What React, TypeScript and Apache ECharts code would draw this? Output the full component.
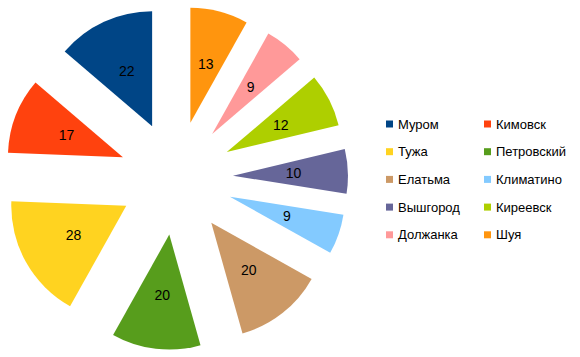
import React, { useEffect, useRef } from "react";
import * as echarts from "echarts";

const categories = ["Муром", "Кимовск", "Тужа", "Петровский", "Елатьма", "Климатино", "Вышгород", "Киреевск", "Должанка", "Шуя"];
const values = [22, 17, 28, 20, 20, 9, 10, 12, 9, 13];
const colors = ["#004586", "#ff420e", "#ffd320", "#579d1c", "#cc9966", "#83caff", "#666699", "#aecf00", "#ff9999", "#ff950e"];
const legendLeft = ["Муром", "Тужа", "Елатьма", "Вышгород", "Должанка"];
const legendRight = ["Кимовск", "Петровский", "Климатино", "Киреевск", "Шуя"];

export default function App() {
  const ref = useRef<HTMLDivElement>(null);
  useEffect(() => {
    document.body.style.margin = "0";
    const chart = echarts.init(ref.current!, undefined, { renderer: "svg" });
    const legendCommon = {
      orient: "vertical" as const,
      top: 117,
      padding: 0,
      itemWidth: 7,
      itemHeight: 7,
      itemGap: 13.7,
      icon: "rect",
      textStyle: { fontFamily: "Liberation Sans, Arial, sans-serif", fontSize: 13, color: "#000", lineHeight: 14 },
      selectedMode: false,
    };
    chart.setOption({
      animation: false,
      color: colors,
      legend: [
        { ...legendCommon, left: 386, data: legendLeft },
        { ...legendCommon, left: 484, data: legendRight },
      ],
      series: [
        {
          type: "pie",
          center: [176, 178],
          radius: 115,
          startAngle: 90,
          clockwise: false,
          selectedMode: "multiple",
          selectedOffset: 57,
          avoidLabelOverlap: false,
          label: {
            show: true,
            position: "inside",
            formatter: "{c}",
            fontFamily: "Liberation Sans, Arial, sans-serif",
            fontSize: 14,
            color: "#000",
          },
          labelLine: { show: false },
          itemStyle: { borderWidth: 0 },
          select: { itemStyle: { borderWidth: 0 }, label: { color: "#000" } },
          emphasis: { disabled: true },
          data: categories.map((name, i) => ({ name, value: values[i], selected: true })),
        },
      ],
    });
    return () => chart.dispose();
  }, []);
  return <div ref={ref} style={{ width: 580, height: 357 }} />;
}
